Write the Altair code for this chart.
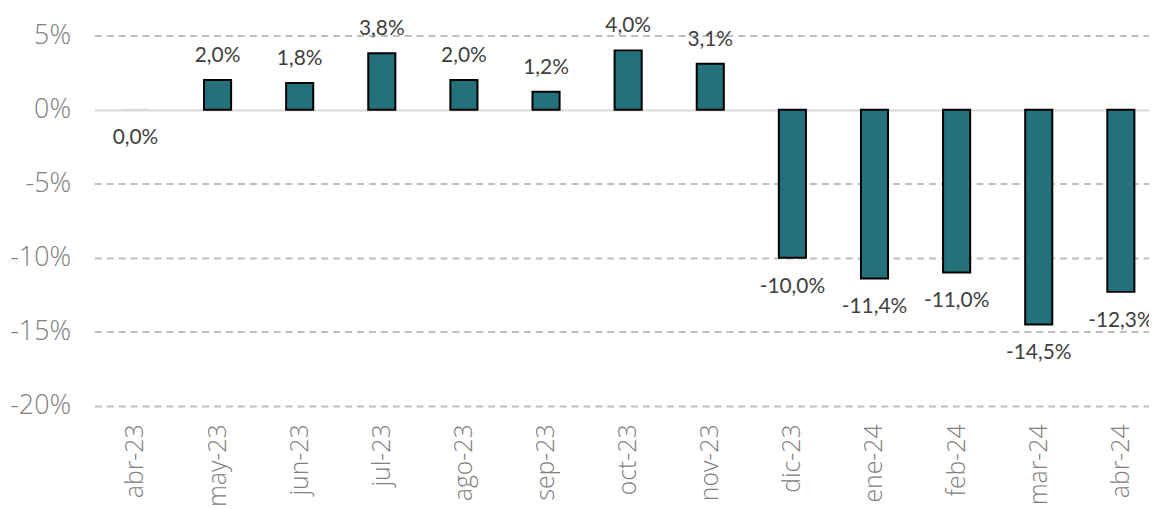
import altair as alt
import pandas as pd

months = ["abr-23", "may-23", "jun-23", "jul-23", "ago-23", "sep-23", "oct-23",
          "nov-23", "dic-23", "ene-24", "feb-24", "mar-24", "abr-24"]
values = [0.0, 2.0, 1.8, 3.8, 2.0, 1.2, 4.0, 3.1, -10.0, -11.4, -11.0, -14.5, -12.3]
y_ticks = [-20, -15, -10, -5, 0, 5]

df = pd.DataFrame({"mes": months, "v": values})

W = 1062
H = 373

x = alt.X("mes:N", sort=months,
          scale=alt.Scale(range=[0, 1075], paddingInner=0.67, paddingOuter=0.335),
          axis=alt.Axis(title=None, labelAngle=-90, labelAlign="right", labelBaseline="middle",
                        labelFontSize=25, labelColor="#808080", labelFont="Open Sans",
                        labelFontWeight=300, labelPadding=18, ticks=False, domain=False,
                        grid=False))
y = alt.Y("v:Q", scale=alt.Scale(domain=[-20, 5], nice=False),
          axis=alt.Axis(title=None, values=y_ticks, labelExpr="datum.value + '%'",
                        labelFontSize=27, labelColor="#808080", labelFont="Open Sans",
                        labelFontWeight=300, labelPadding=24, ticks=False, domain=False,
                        grid=True,
                        gridColor={"condition": {"test": "datum.value === 0", "value": "#d9d9d9"},
                                   "value": "#bfbfbf"},
                        gridDash={"condition": {"test": "datum.value === 0", "value": []},
                                  "value": [7, 5]},
                        gridWidth=2))

base = alt.Chart(df)

bars = base.mark_bar(strokeWidth=2, color="#23717B").encode(
    x=x, y=y, y2=alt.datum(0),
    stroke=alt.condition("datum.v == 0", alt.value("#d9d9d9"), alt.value("#000000")),
)

lab = base.transform_calculate(
    lbl="replace(replace(format(datum.v, '.1f'), '.', ','), '\u2212', '-') + '%'"
)

pos_lab = lab.transform_filter("datum.v > 0").mark_text(
    baseline="bottom", dy=-14, fontSize=21, color="#404040", font="Lato"
).encode(x=alt.X("mes:N", sort=months), y=alt.Y("v:Q"), text="lbl:N")

neg_lab = lab.transform_filter("datum.v <= 0").mark_text(
    baseline="top", dy=18, fontSize=21, color="#404040", font="Lato"
).encode(x=alt.X("mes:N", sort=months), y=alt.Y("v:Q"), text="lbl:N")

chart = alt.layer(bars, pos_lab, neg_lab).properties(
    width=W, height=H,
    autosize=alt.AutoSizeParams(type="none"),
    padding={"left": 87, "top": 26, "right": 0, "bottom": 100},
    background="white",
).configure_view(stroke=None).configure_axis(domain=False, ticks=False)

chart.save("out.html", embed_options={"renderer": "svg", "actions": False})
